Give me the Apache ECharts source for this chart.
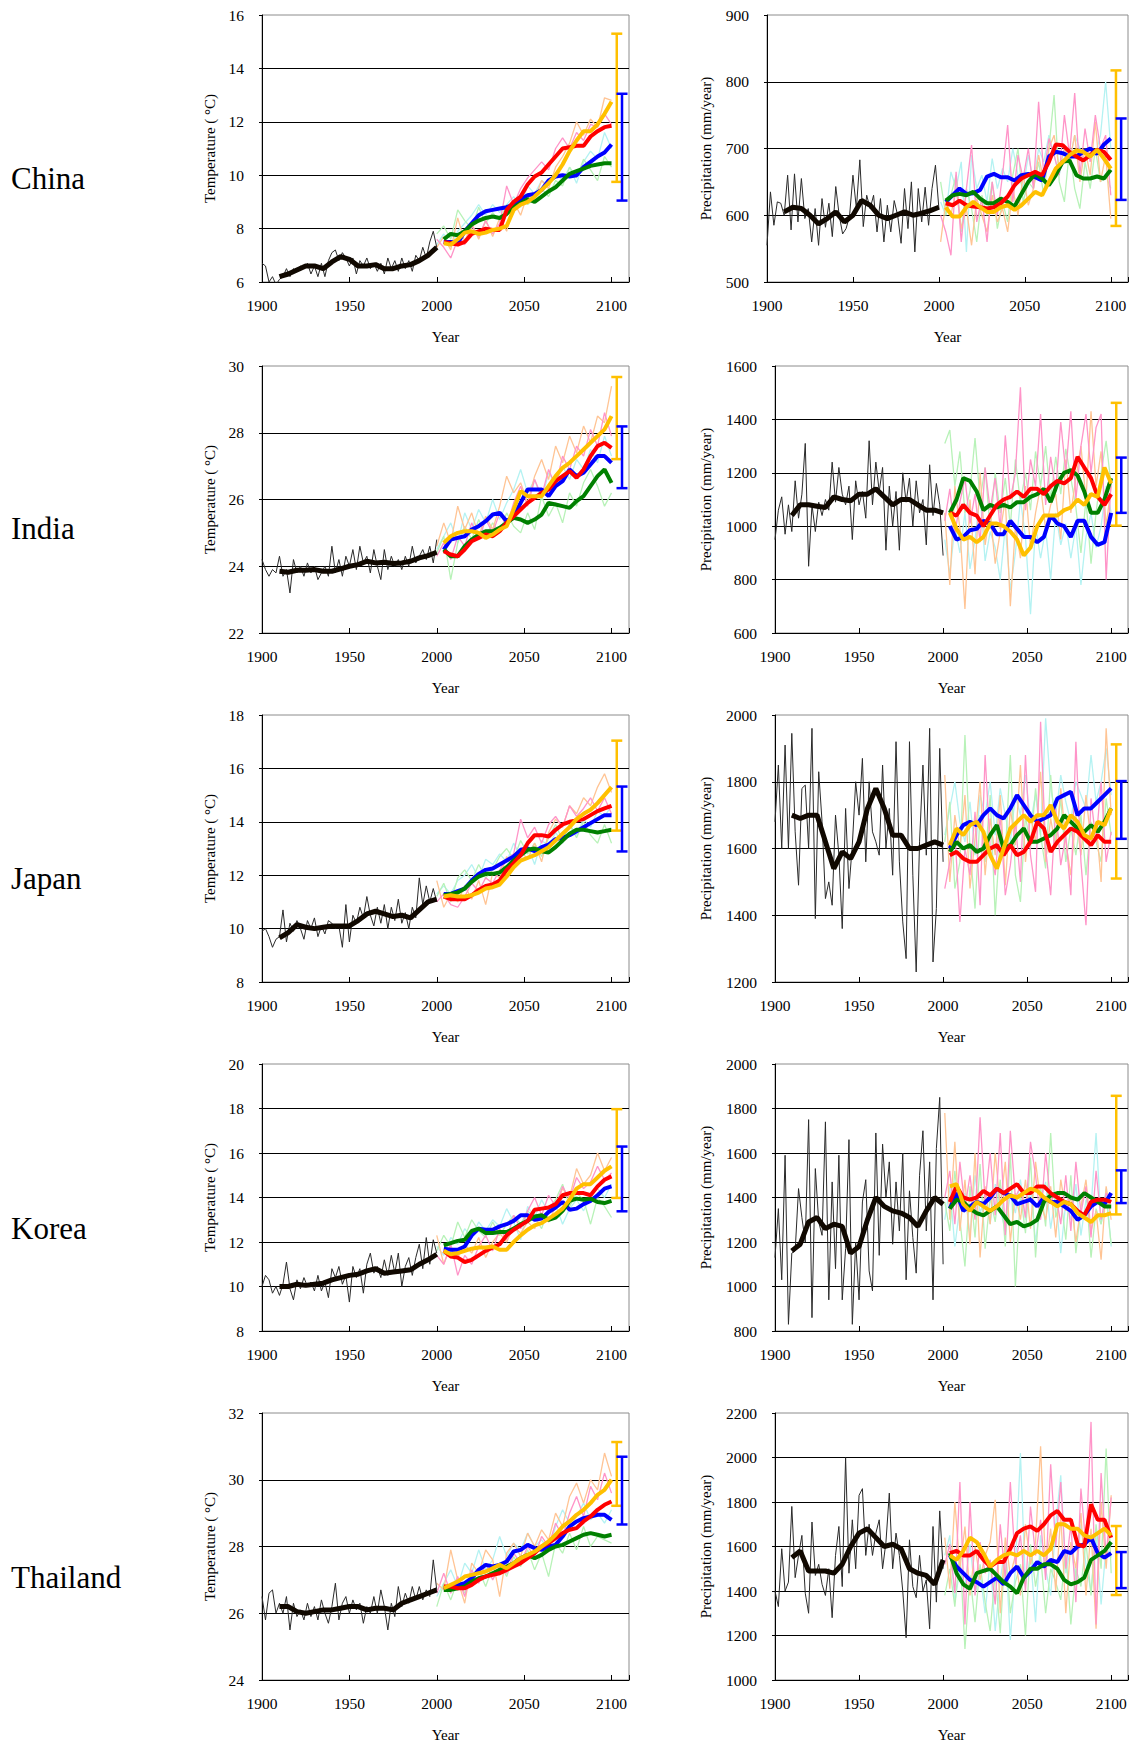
<!DOCTYPE html>
<html>
<head>
<meta charset="utf-8">
<title>Temperature and precipitation projections</title>
<script src="https://cdn.jsdelivr.net/npm/echarts@6/dist/echarts.min.js"></script>
<style>
  html, body { margin: 0; padding: 0; background: #fff; }
  #main { width: 1133px; height: 1744px; }
</style>
</head>
<body>
<div id="main"></div>
<script>
// year layout of each kind of series
const HIST_START = 1900, HIST_STEP = 2;      // thin observed line
const SMOOTH_START = 1910, SMOOTH_STEP = 5;  // thick observed line
const FUT_START = 2004, FUT_STEP = 4;        // thick scenario lines
const TEMP_THIN_START = 2000, TEMP_THIN_STEP = 4;
const PREC_THIN_START = 2001, PREC_THIN_STEP = 3;

const countries = ['China', 'India', 'Japan', 'Korea', 'Thailand'];
const yearTicks = [1900, 1950, 2000, 2050, 2100];

// [min, max, interval]
const chinaTempAxis = [6, 16, 2];
const chinaPrecipAxis = [500, 900, 100];
const indiaTempAxis = [22, 30, 2];
const indiaPrecipAxis = [600, 1600, 200];
const japanTempAxis = [8, 18, 2];
const japanPrecipAxis = [1200, 2000, 200];
const koreaTempAxis = [8, 20, 2];
const koreaPrecipAxis = [800, 2000, 200];
const thaiTempAxis = [24, 32, 2];
const thaiPrecipAxis = [1000, 2200, 200];

// ---------- China ----------
const chinaTempHist = [6.7, 6.6, 6.0, 6.2, 5.9, 6.1, 6.2, 6.5, 6.2, 6.5,
  6.4, 6.6, 6.5, 6.7, 6.3, 6.6, 6.2, 6.7, 6.2, 6.8,
  7.1, 7.2, 6.8, 7.1, 6.9, 6.6, 6.9, 6.3, 6.8, 6.6,
  6.9, 6.5, 6.7, 6.4, 6.7, 6.3, 6.9, 6.5, 6.8, 6.4,
  6.9, 6.5, 6.8, 6.4, 7.0, 6.8, 7.3, 6.9, 7.5, 7.9, 7.3];
const chinaTempSmooth = [6.2, 6.3, 6.45, 6.6, 6.6, 6.5, 6.75, 6.95, 6.85, 6.6, 6.6, 6.65, 6.5, 6.5, 6.6, 6.65, 6.8, 7.0, 7.3];
const chinaTempBlue = [7.5, 7.5, 7.45, 7.9, 8.2, 8.5, 8.65, 8.7, 8.75, 8.8, 8.9, 9.1, 9.25, 9.3, 9.45, 9.8, 9.95, 10.0, 9.95, 10.0, 10.3, 10.5, 10.7, 10.85, 11.15];
const chinaTempRed = [7.5, 7.45, 7.4, 7.5, 7.8, 7.9, 8.0, 7.95, 7.95, 8.7, 9.0, 9.2, 9.65, 9.95, 10.1, 10.4, 10.7, 11.0, 11.05, 11.1, 11.1, 11.45, 11.65, 11.8, 11.85];
const chinaTempGreen = [7.6, 7.8, 7.75, 7.9, 8.15, 8.3, 8.4, 8.45, 8.4, 8.55, 8.8, 8.95, 9.1, 9.0, 9.2, 9.4, 9.55, 9.8, 10.05, 10.15, 10.25, 10.35, 10.4, 10.45, 10.45];
const chinaTempYellow = [7.45, 7.4, 7.6, 7.85, 7.9, 7.8, 7.85, 7.95, 8.0, 8.1, 8.7, 8.9, 9.0, 9.2, 9.45, 9.7, 10.0, 10.4, 10.9, 11.3, 11.65, 11.65, 11.9, 12.3, 12.75];
const chinaTempPink = [7.6, 7.3, 6.9, 7.6, 7.4, 8.1, 7.7, 8.3, 7.8, 8.2, 9.6, 8.9, 9.5, 9.9, 10.2, 10.5, 10.2, 11.0, 11.4, 11.0, 11.6, 11.3, 11.9, 11.8, 12.3, 11.9];
const chinaTempPeach = [7.3, 7.7, 7.2, 8.4, 7.5, 8.2, 7.6, 8.3, 7.7, 8.4, 7.9, 9.0, 8.5, 9.3, 9.1, 9.8, 9.5, 10.3, 10.7, 11.2, 12.0, 11.5, 12.1, 11.8, 12.9, 12.8];
const chinaTempMint = [7.8, 8.1, 7.6, 8.7, 8.3, 8.0, 8.8, 8.2, 8.6, 8.3, 8.9, 8.6, 9.2, 8.9, 9.1, 9.5, 9.2, 9.8, 9.6, 10.3, 9.9, 10.6, 10.2, 9.8, 10.7, 10.3];
const chinaTempCyan = [7.4, 7.8, 7.3, 7.9, 8.2, 8.5, 8.9, 8.5, 8.9, 8.6, 8.9, 9.2, 8.8, 9.6, 9.3, 9.8, 9.6, 10.1, 9.8, 10.3, 9.7, 10.5, 10.9, 10.6, 11.6, 11.0];
const chinaTempBars = [9.75, 15.3, 9.05, 13.05]; // yellow low/high, blue low/high

const chinaPrecipHist = [555, 635, 585, 620, 618, 600, 660, 578, 662, 590,
  655, 595, 610, 560, 610, 555, 625, 582, 618, 568,
  643, 600, 572, 580, 598, 660, 610, 683, 583, 630,
  610, 630, 575, 625, 560, 615, 575, 622, 600, 558,
  640, 580, 650, 545, 640, 590, 642, 585, 640, 675, 610];
const chinaPrecipSmooth = [605, 612, 610, 600, 587, 595, 605, 590, 600, 622, 615, 600, 595, 600, 605, 600, 603, 607, 612];
const chinaPrecipBlue = [620, 630, 640, 632, 633, 638, 658, 662, 657, 657, 652, 660, 662, 657, 652, 688, 695, 693, 688, 688, 695, 700, 692, 706, 715];
const chinaPrecipRed = [618, 615, 622, 615, 613, 612, 610, 612, 618, 628, 645, 655, 660, 665, 660, 680, 706, 705, 695, 688, 682, 690, 698, 695, 683];
const chinaPrecipGreen = [622, 630, 632, 630, 635, 625, 618, 618, 625, 620, 613, 632, 650, 662, 655, 645, 660, 680, 682, 660, 655, 655, 658, 655, 668];
const chinaPrecipYellow = [612, 598, 598, 612, 620, 612, 605, 605, 612, 615, 608, 615, 625, 635, 630, 650, 670, 680, 690, 697, 695, 688, 698, 685, 670];
const chinaPrecipPink = [600, 575, 540, 665, 560, 640, 705, 590, 625, 560, 650, 600, 660, 735, 620, 690, 655, 700, 640, 770, 660, 715, 690, 660, 750, 690, 783, 660, 730, 680, 750, 700, 720, 630];
const chinaPrecipPeach = [560, 620, 600, 640, 580, 610, 555, 625, 600, 575, 630, 590, 610, 575, 640, 600, 660, 615, 640, 690, 650, 700, 720, 670, 700, 680, 720, 650, 700, 660, 740, 650, 690, 595];
const chinaPrecipMint = [650, 600, 630, 660, 575, 640, 610, 560, 630, 600, 650, 580, 620, 590, 660, 700, 620, 650, 640, 680, 630, 700, 780, 650, 620, 700, 640, 610, 680, 640, 700, 650, 660, 640];
const chinaPrecipCyan = [620, 600, 665, 640, 680, 545, 690, 640, 660, 620, 685, 640, 670, 650, 700, 660, 640, 690, 650, 700, 680, 720, 690, 660, 700, 680, 720, 700, 680, 700, 690, 720, 800, 700];
const chinaPrecipBars = [584, 817, 623, 745];

// ---------- India ----------
const indiaTempHist = [24.2, 23.9, 23.7, 23.9, 23.8, 24.3, 23.7, 23.9, 23.2, 24.2,
  23.8, 24.0, 23.7, 24.1, 23.8, 24.0, 23.6, 23.8, 24.0, 23.7,
  24.6, 23.8, 24.2, 23.7, 24.3, 24.0, 24.5, 23.9, 24.6, 24.1,
  24.3, 23.8, 24.5, 24.0, 23.6, 24.5, 23.9, 24.3, 24.0, 24.2,
  23.9, 24.3, 24.0, 24.6, 24.1, 24.3, 24.5, 24.2, 24.6, 24.1, 24.8];
const indiaTempSmooth = [23.85, 23.82, 23.88, 23.88, 23.9, 23.85, 23.85, 23.92, 24.0, 24.05, 24.15, 24.1, 24.12, 24.08, 24.1, 24.15, 24.25, 24.32, 24.42];
const indiaTempBlue = [24.5, 24.8, 24.85, 24.9, 25.1, 25.2, 25.35, 25.55, 25.6, 25.35, 25.5, 25.9, 26.3, 26.3, 26.3, 26.1, 26.4, 26.55, 26.9, 26.7, 26.8, 27.05, 27.3, 27.3, 27.1];
const indiaTempRed = [24.45, 24.35, 24.3, 24.5, 24.75, 24.85, 24.95, 24.9, 25.05, 25.3, 25.5, 25.7, 25.9, 26.05, 26.2, 26.3, 26.55, 26.7, 26.85, 26.65, 26.9, 27.3, 27.6, 27.7, 27.55];
const indiaTempGreen = [24.5, 24.3, 24.3, 24.6, 24.8, 24.95, 25.05, 25.05, 25.15, 25.3, 25.45, 25.4, 25.3, 25.4, 25.55, 25.9, 25.85, 25.8, 25.75, 25.95, 26.1, 26.4, 26.7, 26.9, 26.5];
const indiaTempYellow = [24.7, 24.9, 25.0, 25.05, 25.05, 25.0, 24.85, 24.95, 25.1, 25.2, 25.7, 26.25, 26.1, 26.1, 26.1, 26.4, 26.7, 26.95, 27.1, 27.3, 27.5, 27.7, 27.9, 28.1, 28.5];
const indiaTempPink = [24.3, 24.7, 24.2, 24.9, 24.6, 25.3, 24.8, 25.4, 25.0, 25.6, 25.2, 25.9, 26.4, 25.8, 26.6, 26.1, 26.9, 26.4, 27.3, 26.9, 27.6, 27.3, 28.1, 27.6, 28.6, 27.9];
const indiaTempPeach = [24.6, 25.3, 24.7, 25.8, 25.1, 25.6, 24.9, 25.5, 25.1, 25.8, 26.7, 26.2, 26.5, 25.9, 26.7, 27.2, 26.6, 27.6, 27.1, 27.9, 27.4, 28.2, 27.7, 28.5, 28.3, 29.4];
const indiaTempMint = [24.4, 24.9, 23.6, 24.7, 25.2, 24.8, 25.4, 24.9, 25.3, 25.0, 25.6, 25.2, 25.0, 25.6, 25.1, 26.1, 25.5, 25.9, 25.3, 26.2, 25.8, 26.5, 26.9, 26.4, 25.8, 26.2];
const indiaTempCyan = [24.5, 24.9, 25.3, 24.7, 25.6, 25.1, 25.7, 25.3, 26.0, 25.4, 25.9, 26.3, 26.9, 26.2, 26.6, 26.0, 26.8, 26.5, 27.0, 26.6, 27.2, 26.9, 27.5, 27.1, 27.9, 27.3];
const indiaTempBars = [27.21, 29.67, 26.34, 28.19];

const indiaPrecipHist = [950, 1060, 1110, 970, 1080, 980, 1170, 1030, 1120, 1310,
  850, 1080, 980, 1090, 1040, 1100, 1060, 1240, 1090, 1220,
  1120, 1080, 1150, 950, 1170, 1080, 1130, 1030, 1320, 1080,
  1240, 1130, 1220, 910, 1150, 1000, 1130, 910, 1200, 1090,
  1180, 1000, 1170, 1050, 1100, 930, 1230, 1040, 1160, 1080, 890];
const indiaPrecipSmooth = [1040, 1080, 1080, 1075, 1070, 1110, 1100, 1095, 1120, 1120, 1140, 1110, 1080, 1100, 1100, 1080, 1060, 1060, 1050];
const indiaPrecipBlue = [1000, 950, 960, 985, 990, 1020, 1010, 970, 970, 1020, 990, 960, 960, 940, 960, 1040, 1010, 1000, 960, 1020, 1020, 960, 930, 940, 1050];
const indiaPrecipRed = [1050, 1040, 1080, 1050, 1040, 1000, 1040, 1080, 1100, 1110, 1130, 1110, 1140, 1140, 1120, 1150, 1170, 1160, 1180, 1260, 1220, 1180, 1110, 1080, 1120];
const indiaPrecipGreen = [1050, 1100, 1180, 1170, 1130, 1060, 1080, 1070, 1080, 1070, 1090, 1090, 1110, 1120, 1140, 1090, 1160, 1200, 1210, 1190, 1130, 1050, 1050, 1100, 1180];
const indiaPrecipYellow = [1050, 990, 950, 960, 940, 960, 1010, 1010, 1000, 980, 950, 890, 920, 1000, 1040, 1040, 1040, 1060, 1070, 1100, 1080, 1120, 1110, 1220, 1160];
const indiaPrecipPink = [1020, 1140, 970, 1090, 1180, 1010, 1120, 940, 1220, 1060, 1180, 990, 1340, 1100, 1200, 1520, 1060, 1250, 1150, 1420, 1080, 1260, 1130, 1390, 1200, 1430, 1100, 1300, 1420, 1200, 1370, 1420, 800, 1180];
const indiaPrecipPeach = [1050, 780, 1150, 990, 690, 1100, 820, 1200, 930, 1050, 860, 980, 1100, 700, 1000, 880, 1150, 920, 1050, 1150, 990, 1080, 1120, 950, 1250, 1050, 1180, 1300, 1100, 1430, 1150, 1280, 1000, 1150];
const indiaPrecipMint = [1310, 1360, 1150, 1280, 1050, 1130, 1330, 1100, 1220, 990, 1200, 1050, 1180, 1000, 1250, 1090, 1200, 1060, 1280, 1150, 1300, 1100, 1260, 1120, 1290, 1180, 1070, 900, 1100, 860, 1050, 1200, 1320, 1150];
const indiaPrecipCyan = [950, 820, 1000, 900, 1050, 840, 950, 1120, 870, 980, 920, 800, 1000, 760, 900, 1100, 960, 670, 1000, 880, 990, 800, 1050, 930, 1010, 880, 1000, 780, 960, 1050, 920, 1000, 1150, 1050];
const indiaPrecipBars = [1002, 1462, 1050, 1257];

// ---------- Japan ----------
const japanTempHist = [9.9, 10.0, 9.7, 9.3, 9.6, 9.7, 10.7, 9.5, 10.2, 9.9,
  10.3, 10.0, 9.6, 10.3, 10.0, 10.4, 9.7, 10.1, 9.8, 10.3,
  10.2, 10.0, 10.1, 9.3, 10.9, 9.5, 10.5, 10.2, 10.8, 10.4,
  11.2, 10.5, 10.1, 10.8, 10.2, 10.9, 10.0, 10.8, 10.3, 11.1,
  10.2, 10.6, 10.0, 10.8, 10.4, 11.9, 10.9, 11.6, 11.0, 11.5, 11.0];
const japanTempSmooth = [9.65, 9.85, 10.15, 10.05, 10.0, 10.05, 10.1, 10.1, 10.1, 10.3, 10.55, 10.65, 10.55, 10.45, 10.5, 10.4, 10.7, 11.0, 11.1];
const japanTempBlue = [11.3, 11.3, 11.4, 11.5, 11.8, 12.05, 12.2, 12.25, 12.4, 12.55, 12.7, 12.95, 13.0, 12.9, 13.05, 13.15, 13.35, 13.4, 13.5, 13.65, 13.8, 13.95, 14.1, 14.25, 14.25];
const japanTempRed = [11.2, 11.1, 11.1, 11.1, 11.25, 11.45, 11.6, 11.65, 11.8, 12.2, 12.45, 12.75, 13.2, 13.5, 13.5, 13.45, 13.7, 13.9, 14.0, 14.05, 14.1, 14.25, 14.4, 14.5, 14.6];
const japanTempGreen = [11.25, 11.3, 11.35, 11.5, 11.75, 11.95, 12.05, 12.05, 12.1, 12.3, 12.55, 12.75, 12.95, 13.0, 12.9, 12.85, 13.05, 13.3, 13.55, 13.7, 13.7, 13.65, 13.6, 13.65, 13.7];
const japanTempYellow = [11.2, 11.25, 11.2, 11.2, 11.25, 11.35, 11.5, 11.55, 11.65, 11.95, 12.3, 12.55, 12.65, 12.75, 12.9, 13.05, 13.3, 13.55, 13.8, 14.1, 14.3, 14.45, 14.7, 15.0, 15.3];
const japanTempPink = [11.0, 11.3, 10.9, 10.8, 11.2, 11.7, 11.4, 11.9, 11.7, 12.2, 12.6, 12.8, 14.1, 13.4, 13.8, 13.2, 13.9, 14.2, 13.8, 14.6, 14.2, 14.5, 14.9, 14.4, 14.9, 14.3];
const japanTempPeach = [11.8, 10.8, 11.3, 11.0, 11.6, 11.1, 11.8, 10.9, 12.1, 11.9, 12.7, 12.3, 12.9, 12.6, 13.2, 12.5, 13.6, 14.1, 13.8, 14.6, 14.3, 14.9, 14.6, 15.3, 15.8, 15.1];
const japanTempMint = [11.2, 11.7, 11.0, 11.9, 12.2, 11.8, 12.4, 11.9, 12.2, 12.7, 13.0, 12.6, 13.3, 12.8, 13.2, 12.7, 13.4, 13.9, 13.3, 13.9, 13.4, 14.0, 13.5, 13.2, 13.9, 13.2];
const japanTempCyan = [11.3, 11.6, 11.3, 11.8, 12.0, 12.4, 11.9, 12.6, 12.4, 12.8, 12.5, 13.2, 12.7, 13.1, 12.4, 13.3, 13.1, 13.6, 13.2, 13.9, 13.5, 14.1, 13.8, 14.4, 14.2, 14.6];
const japanTempBars = [13.67, 17.04, 12.89, 15.32];

const japanPrecipHist = [1680, 1850, 1600, 1910, 1600, 1945, 1650, 1490, 1780, 1790,
  1600, 1960, 1390, 1830, 1680, 1450, 1500, 1430, 1700, 1580,
  1360, 1720, 1480, 1610, 1800, 1700, 1870, 1560, 1800, 1650,
  1620, 1580, 1850, 1600, 1720, 1520, 1920, 1560, 1380, 1270,
  1920, 1520, 1230, 1620, 1850, 1580, 1960, 1260, 1420, 1900, 1560];
const japanPrecipSmooth = [1700, 1690, 1700, 1700, 1620, 1540, 1590, 1570, 1620, 1720, 1780, 1720, 1640, 1640, 1600, 1600, 1610, 1620, 1610];
const japanPrecipBlue = [1600, 1640, 1670, 1680, 1670, 1700, 1720, 1700, 1690, 1720, 1760, 1730, 1700, 1680, 1690, 1700, 1750, 1760, 1770, 1700, 1720, 1720, 1740, 1760, 1780];
const japanPrecipRed = [1580, 1590, 1570, 1560, 1560, 1580, 1600, 1610, 1580, 1610, 1580, 1590, 1620, 1680, 1660, 1590, 1620, 1640, 1660, 1650, 1630, 1610, 1640, 1620, 1620];
const japanPrecipGreen = [1590, 1620, 1600, 1610, 1590, 1600, 1640, 1670, 1600, 1610, 1640, 1660, 1620, 1620, 1630, 1640, 1660, 1700, 1680, 1660, 1650, 1670, 1650, 1680, 1720];
const japanPrecipYellow = [1610, 1660, 1640, 1670, 1680, 1650, 1580, 1540, 1600, 1660, 1680, 1700, 1680, 1700, 1700, 1730, 1680, 1660, 1700, 1680, 1640, 1630, 1680, 1670, 1720];
const japanPrecipPink = [1480, 1560, 1650, 1380, 1600, 1520, 1710, 1430, 1880, 1600, 1520, 1700, 1460, 1550, 1680, 1500, 1880, 1580, 1470, 1980, 1600, 1460, 1720, 1550, 1640, 1460, 1920, 1560, 1370, 1750, 1620, 1800, 1560, 1650];
const japanPrecipPeach = [1820, 1500, 1700, 1600, 1760, 1480, 1630, 1800, 1520, 1690, 1580, 1760, 1490, 1720, 1610, 1850, 1560, 1700, 1620, 1830, 1560, 1690, 1600, 1780, 1620, 1520, 1700, 1580, 1760, 1620, 1680, 1500, 1960, 1700];
const japanPrecipMint = [1620, 1740, 1480, 1560, 1940, 1600, 1420, 1700, 1560, 1760, 1400, 1640, 1580, 1880, 1520, 1440, 1700, 1600, 1780, 1640, 1540, 1820, 1620, 1750, 1560, 1660, 1580, 1700, 1520, 1680, 1620, 1560, 1750, 1640];
const japanPrecipCyan = [1640, 1720, 1800, 1680, 1620, 1740, 1580, 1760, 1700, 1800, 1640, 1780, 1700, 1620, 1760, 1700, 1820, 1680, 1760, 1640, 1990, 1780, 1700, 1820, 1740, 1680, 1800, 1760, 1720, 1880, 1740, 1800, 1900, 1760];
const japanPrecipBars = [1510, 1912, 1629, 1802];

// ---------- Korea ----------
const koreaTempHist = [10.0, 10.5, 10.3, 9.7, 10.0, 9.6, 10.1, 11.1, 9.9, 9.4,
  10.3, 9.9, 10.4, 10.0, 10.2, 9.8, 10.5, 9.8, 10.2, 9.5,
  10.8, 10.4, 10.9, 10.1, 10.5, 9.3, 10.9, 10.4, 10.8, 9.7,
  11.0, 11.5, 10.6, 10.9, 10.4, 11.2, 10.5, 11.4, 10.6, 11.5,
  10.0, 10.9, 11.3, 10.5, 11.3, 11.9, 10.8, 12.2, 11.0, 12.1, 11.5];
const koreaTempSmooth = [10.0, 10.0, 10.1, 10.05, 10.1, 10.15, 10.3, 10.4, 10.5, 10.55, 10.7, 10.8, 10.6, 10.65, 10.7, 10.75, 11.0, 11.2, 11.45];
const koreaTempBlue = [11.7, 11.65, 11.65, 11.8, 12.3, 12.6, 12.55, 12.55, 12.7, 12.8, 12.95, 13.2, 13.2, 13.0, 13.05, 13.35, 13.55, 13.8, 13.45, 13.5, 13.7, 13.85, 14.1, 14.4, 14.5];
const koreaTempRed = [11.6, 11.35, 11.3, 11.1, 11.2, 11.4, 11.6, 11.75, 11.9, 12.3, 12.55, 12.75, 12.95, 13.45, 13.5, 13.55, 13.7, 14.1, 14.2, 14.2, 14.2, 14.1, 14.5, 14.8, 14.95];
const koreaTempGreen = [11.85, 11.95, 12.05, 12.1, 12.5, 12.6, 12.4, 12.4, 12.45, 12.45, 12.6, 12.8, 12.95, 13.15, 13.2, 13.0, 13.1, 13.4, 13.85, 13.95, 13.9, 13.95, 13.8, 13.75, 13.85];
const koreaTempYellow = [11.6, 11.45, 11.5, 11.6, 11.7, 11.75, 11.75, 11.8, 11.65, 11.65, 12.0, 12.3, 12.55, 12.75, 12.85, 13.05, 13.25, 13.5, 13.9, 14.4, 14.6, 14.6, 14.9, 15.2, 15.4];
const koreaTempPink = [11.4, 11.0, 11.9, 10.5, 11.4, 11.0, 11.8, 12.3, 11.6, 12.6, 12.1, 13.2, 12.6, 13.4, 14.0, 13.2, 14.1, 13.6, 14.5, 13.9, 14.9, 14.4, 14.7, 15.4, 14.8, 15.1];
const koreaTempPeach = [12.3, 11.0, 11.8, 11.3, 11.9, 11.5, 12.2, 11.3, 12.0, 12.4, 12.0, 12.7, 12.4, 12.9, 12.6, 13.3, 12.9, 13.6, 14.4, 14.0, 15.3, 14.6, 15.0, 16.0, 15.2, 15.8];
const koreaTempMint = [11.6, 12.3, 11.8, 12.9, 12.2, 13.0, 12.5, 12.2, 12.9, 12.3, 12.8, 13.2, 12.8, 13.4, 13.1, 12.6, 13.5, 13.9, 14.6, 13.6, 14.2, 13.9, 12.8, 14.0, 13.6, 13.1];
const koreaTempCyan = [11.8, 11.4, 12.2, 11.9, 12.6, 12.2, 12.9, 12.5, 13.0, 12.7, 13.5, 12.9, 12.1, 13.6, 13.1, 13.9, 13.3, 13.7, 12.8, 13.5, 13.9, 13.4, 14.1, 14.4, 14.0, 14.6];
const koreaTempBars = [13.98, 17.97, 13.38, 16.29];

const koreaPrecipHist = [1130, 1350, 1030, 1590, 830, 1150, 1160, 1440, 1310, 1200,
  1750, 860, 1530, 1290, 1230, 1740, 940, 1470, 1080, 1590,
  940, 1170, 1660, 830, 1200, 940, 1380, 1480, 1070, 980,
  1690, 1140, 1640, 1400, 1560, 1190, 1470, 1250, 1600, 1030,
  1430, 1220, 1060, 1500, 1700, 1250, 1560, 940, 1620, 1850, 1100];
const koreaPrecipSmooth = [1160, 1190, 1290, 1310, 1260, 1280, 1270, 1150, 1180, 1300, 1400, 1360, 1340, 1330, 1310, 1270, 1340, 1400, 1370];
const koreaPrecipBlue = [1350, 1420, 1340, 1360, 1380, 1370, 1400, 1440, 1420, 1410, 1370, 1380, 1390, 1360, 1400, 1380, 1380, 1360, 1340, 1300, 1320, 1360, 1380, 1370, 1420];
const koreaPrecipRed = [1380, 1450, 1400, 1390, 1400, 1430, 1410, 1440, 1420, 1440, 1460, 1420, 1420, 1450, 1450, 1420, 1400, 1380, 1370, 1340, 1320, 1380, 1390, 1390, 1380];
const koreaPrecipGreen = [1350, 1390, 1380, 1350, 1330, 1320, 1340, 1360, 1320, 1280, 1290, 1270, 1280, 1300, 1380, 1410, 1420, 1420, 1400, 1390, 1420, 1400, 1380, 1360, 1360];
const koreaPrecipYellow = [1450, 1460, 1370, 1340, 1380, 1360, 1340, 1360, 1390, 1410, 1400, 1420, 1440, 1430, 1400, 1380, 1360, 1380, 1370, 1330, 1310, 1290, 1320, 1320, 1330];
const koreaPrecipPink = [1400, 1520, 1280, 1560, 1350, 1500, 1300, 1760, 1380, 1600, 1320, 1690, 1230, 1700, 1400, 1450, 1310, 1650, 1500, 1300, 1600, 1380, 1420, 1280, 1500, 1250, 1560, 1330, 1450, 1220, 1520, 1300, 1420, 1380];
const koreaPrecipPeach = [1780, 1300, 1650, 1250, 1480, 1190, 1600, 1130, 1450, 1280, 1600, 1360, 1560, 1200, 1420, 1300, 1480, 1260, 1560, 1380, 1300, 1450, 1220, 1480, 1340, 1400, 1200, 1360, 1480, 1250, 1340, 1120, 1450, 1300];
const koreaPrecipMint = [1380, 1250, 1520, 1300, 1090, 1450, 1220, 1550, 1170, 1400, 1290, 1480, 1180, 1600, 1000, 1420, 1240, 1580, 1130, 1450, 1270, 1690, 1310, 1400, 1210, 1500, 1150, 1360, 1440, 1130, 1350, 1280, 1400, 1190];
const koreaPrecipCyan = [1300, 1450, 1180, 1360, 1420, 1230, 1500, 1330, 1400, 1280, 1460, 1350, 1250, 1420, 1330, 1480, 1300, 1440, 1200, 1380, 1470, 1260, 1410, 1150, 1380, 1300, 1460, 1230, 1390, 1350, 1690, 1280, 1440, 1180];
const koreaPrecipBars = [1324, 1857, 1375, 1522];

// ---------- Thailand ----------
const thaiTempHist = [26.5, 25.8, 26.6, 26.7, 26.0, 26.3, 26.0, 26.5, 25.5, 26.3,
  25.9, 26.1, 25.8, 26.3, 25.9, 26.2, 25.8, 26.4, 26.0, 25.7,
  26.2, 26.9, 25.8, 26.3, 26.5, 26.0, 26.4, 26.1, 26.3, 25.7,
  26.2, 26.0, 26.5, 26.0, 26.7, 26.2, 25.5, 26.3, 25.9, 26.8,
  26.2, 26.6, 26.3, 26.8, 26.4, 26.8, 26.4, 26.7, 26.5, 27.6, 26.7];
const thaiTempSmooth = [26.2, 26.2, 26.05, 26.0, 26.05, 26.1, 26.1, 26.15, 26.2, 26.2, 26.1, 26.15, 26.15, 26.1, 26.3, 26.4, 26.5, 26.6, 26.7];
const thaiTempBlue = [26.75, 26.8, 26.85, 26.9, 27.05, 27.3, 27.45, 27.4, 27.45, 27.55, 27.85, 27.9, 28.05, 27.95, 27.9, 28.0, 28.05, 28.3, 28.6, 28.75, 28.85, 28.9, 28.95, 28.95, 28.8];
const thaiTempRed = [26.8, 26.8, 26.75, 26.75, 26.85, 27.0, 27.1, 27.15, 27.2, 27.3, 27.4, 27.5, 27.65, 27.8, 28.0, 28.1, 28.25, 28.4, 28.5, 28.55, 28.75, 28.9, 29.1, 29.25, 29.35];
const thaiTempGreen = [26.7, 26.7, 26.75, 26.8, 26.95, 27.05, 27.1, 27.2, 27.3, 27.4, 27.5, 27.65, 27.75, 27.65, 27.75, 27.9, 28.0, 28.05, 28.15, 28.25, 28.35, 28.4, 28.35, 28.3, 28.35];
const thaiTempYellow = [26.75, 26.85, 26.95, 27.1, 27.15, 27.2, 27.25, 27.35, 27.45, 27.35, 27.5, 27.65, 27.75, 27.85, 28.0, 28.15, 28.35, 28.6, 28.75, 28.95, 29.1, 29.3, 29.55, 29.7, 30.0];
const thaiTempPink = [26.6, 27.2, 26.6, 27.1, 26.5, 27.3, 26.9, 27.5, 27.0, 27.4, 27.2, 27.8, 27.5, 28.0, 27.7, 28.3, 28.0, 28.7, 28.3, 29.0, 29.5, 28.9, 29.8, 29.4, 30.2, 29.6];
const thaiTempPeach = [26.9, 26.7, 27.9, 27.0, 26.3, 27.5, 27.2, 27.9, 27.6, 26.5, 27.8, 28.1, 27.7, 28.4, 28.0, 28.5, 28.2, 29.0, 28.6, 29.5, 29.9, 29.3, 30.0, 29.7, 30.8, 30.1];
const thaiTempMint = [26.2, 26.9, 26.4, 27.0, 26.6, 27.1, 27.3, 26.8, 27.4, 27.5, 27.1, 27.7, 27.4, 27.9, 27.3, 27.8, 27.1, 28.1, 27.8, 28.4, 27.9, 28.6, 28.0, 28.3, 28.2, 28.1];
const thaiTempCyan = [26.5, 26.9, 27.3, 26.8, 27.5, 27.2, 27.9, 27.3, 27.6, 28.3, 27.7, 28.1, 27.9, 28.4, 28.0, 28.2, 27.9, 28.6, 29.1, 28.7, 28.9, 29.3, 28.8, 29.0, 28.7, 29.1];
const thaiTempBars = [29.22, 31.13, 28.66, 30.69];

const thaiPrecipHist = [1400, 1330, 1590, 1400, 1440, 1780, 1460, 1560, 1650, 1390,
  1300, 1710, 1470, 1520, 1430, 1380, 1500, 1280, 1560, 1690,
  1420, 2000, 1480, 1720, 1500, 1830, 1860, 1560, 1700, 1560,
  1660, 1720, 1500, 1620, 1840, 1500, 1660, 1560, 1400, 1190,
  1630, 1420, 1370, 1560, 1400, 1450, 1230, 1690, 1350, 1760, 1500];
const thaiPrecipSmooth = [1550, 1580, 1490, 1490, 1490, 1480, 1520, 1600, 1660, 1680, 1640, 1600, 1610, 1590, 1500, 1480, 1470, 1430, 1540];
const thaiPrecipBlue = [1560, 1510, 1480, 1450, 1440, 1420, 1440, 1460, 1430, 1480, 1510, 1460, 1490, 1530, 1510, 1540, 1530, 1580, 1570, 1600, 1610, 1640, 1570, 1550, 1570];
const thaiPrecipRed = [1570, 1580, 1560, 1560, 1580, 1540, 1510, 1530, 1530, 1590, 1660, 1680, 1690, 1670, 1700, 1740, 1760, 1720, 1720, 1610, 1600, 1790, 1720, 1720, 1640];
const thaiPrecipGreen = [1570, 1480, 1430, 1410, 1480, 1490, 1500, 1470, 1440, 1420, 1390, 1460, 1500, 1500, 1520, 1520, 1500, 1450, 1430, 1440, 1460, 1540, 1560, 1580, 1620];
const thaiPrecipYellow = [1560, 1540, 1580, 1640, 1620, 1570, 1510, 1540, 1560, 1570, 1560, 1580, 1560, 1580, 1560, 1590, 1700, 1700, 1680, 1680, 1650, 1640, 1660, 1680, 1650];
const thaiPrecipPink = [1520, 1610, 1390, 1890, 1250, 1800, 1380, 1620, 1480, 1540, 1340, 1700, 1450, 1890, 1520, 1650, 1400, 1780, 1560, 1720, 1450, 1970, 1600, 1890, 1500, 1700, 1350, 1860, 1600, 2160, 1250, 1930, 1550, 1820];
const thaiPrecipPeach = [1640, 1410, 1800, 1500, 1690, 1380, 1600, 1450, 1560, 1620, 1810, 1300, 1640, 1470, 1560, 1380, 1700, 1520, 1620, 2050, 1500, 1680, 1400, 1740, 1300, 1620, 1500, 1750, 1380, 1680, 1230, 1800, 1500, 1830];
const thaiPrecipMint = [1380, 1500, 1330, 1580, 1140, 1470, 1260, 1520, 1350, 1220, 1480, 1210, 1600, 1300, 1440, 1520, 1200, 1610, 1420, 1560, 1300, 1500, 1440, 1360, 1580, 1250, 1500, 1420, 1620, 1380, 1700, 1500, 2040, 1480];
const thaiPrecipCyan = [1560, 1650, 1350, 1500, 1420, 1610, 1390, 1480, 1300, 1540, 1220, 1450, 1600, 1180, 1500, 2020, 1430, 1560, 1260, 1650, 1500, 1380, 1700, 1920, 1480, 1600, 1450, 1700, 1520, 1400, 1650, 1340, 1600, 1550];
const thaiPrecipBars = [1382, 1692, 1413, 1575];

const panels = [
  { row: 0, col: 0, axis: chinaTempAxis, hist: chinaTempHist, smooth: chinaTempSmooth, blue: chinaTempBlue, red: chinaTempRed, green: chinaTempGreen, yellow: chinaTempYellow, pink: chinaTempPink, peach: chinaTempPeach, mint: chinaTempMint, cyan: chinaTempCyan, bars: chinaTempBars },
  { row: 0, col: 1, axis: chinaPrecipAxis, hist: chinaPrecipHist, smooth: chinaPrecipSmooth, blue: chinaPrecipBlue, red: chinaPrecipRed, green: chinaPrecipGreen, yellow: chinaPrecipYellow, pink: chinaPrecipPink, peach: chinaPrecipPeach, mint: chinaPrecipMint, cyan: chinaPrecipCyan, bars: chinaPrecipBars },
  { row: 1, col: 0, axis: indiaTempAxis, hist: indiaTempHist, smooth: indiaTempSmooth, blue: indiaTempBlue, red: indiaTempRed, green: indiaTempGreen, yellow: indiaTempYellow, pink: indiaTempPink, peach: indiaTempPeach, mint: indiaTempMint, cyan: indiaTempCyan, bars: indiaTempBars },
  { row: 1, col: 1, axis: indiaPrecipAxis, hist: indiaPrecipHist, smooth: indiaPrecipSmooth, blue: indiaPrecipBlue, red: indiaPrecipRed, green: indiaPrecipGreen, yellow: indiaPrecipYellow, pink: indiaPrecipPink, peach: indiaPrecipPeach, mint: indiaPrecipMint, cyan: indiaPrecipCyan, bars: indiaPrecipBars },
  { row: 2, col: 0, axis: japanTempAxis, hist: japanTempHist, smooth: japanTempSmooth, blue: japanTempBlue, red: japanTempRed, green: japanTempGreen, yellow: japanTempYellow, pink: japanTempPink, peach: japanTempPeach, mint: japanTempMint, cyan: japanTempCyan, bars: japanTempBars },
  { row: 2, col: 1, axis: japanPrecipAxis, hist: japanPrecipHist, smooth: japanPrecipSmooth, blue: japanPrecipBlue, red: japanPrecipRed, green: japanPrecipGreen, yellow: japanPrecipYellow, pink: japanPrecipPink, peach: japanPrecipPeach, mint: japanPrecipMint, cyan: japanPrecipCyan, bars: japanPrecipBars },
  { row: 3, col: 0, axis: koreaTempAxis, hist: koreaTempHist, smooth: koreaTempSmooth, blue: koreaTempBlue, red: koreaTempRed, green: koreaTempGreen, yellow: koreaTempYellow, pink: koreaTempPink, peach: koreaTempPeach, mint: koreaTempMint, cyan: koreaTempCyan, bars: koreaTempBars },
  { row: 3, col: 1, axis: koreaPrecipAxis, hist: koreaPrecipHist, smooth: koreaPrecipSmooth, blue: koreaPrecipBlue, red: koreaPrecipRed, green: koreaPrecipGreen, yellow: koreaPrecipYellow, pink: koreaPrecipPink, peach: koreaPrecipPeach, mint: koreaPrecipMint, cyan: koreaPrecipCyan, bars: koreaPrecipBars },
  { row: 4, col: 0, axis: thaiTempAxis, hist: thaiTempHist, smooth: thaiTempSmooth, blue: thaiTempBlue, red: thaiTempRed, green: thaiTempGreen, yellow: thaiTempYellow, pink: thaiTempPink, peach: thaiTempPeach, mint: thaiTempMint, cyan: thaiTempCyan, bars: thaiTempBars },
  { row: 4, col: 1, axis: thaiPrecipAxis, hist: thaiPrecipHist, smooth: thaiPrecipSmooth, blue: thaiPrecipBlue, red: thaiPrecipRed, green: thaiPrecipGreen, yellow: thaiPrecipYellow, pink: thaiPrecipPink, peach: thaiPrecipPeach, mint: thaiPrecipMint, cyan: thaiPrecipCyan, bars: thaiPrecipBars }
];

// layout
const FONT = '"Liberation Serif", "Times New Roman", serif';
const ROW_TOP = [15, 366, 715, 1064, 1413];
const PLOT_H = 267;
const RIGHT_EDGE = 1128;
const LABEL_Y = [178, 528, 878, 1228, 1577];
const BAR_X_YELLOW = 2103, BAR_X_BLUE = 2106;

const C = {
  blue: '#0000ff', red: '#ff0000', green: '#008000', yellow: '#ffc000',
  pink: '#ff94c8', peach: '#ffc494', mint: '#b8f2b8', cyan: '#b4f2f2',
  hist: '#2a2a2a', smooth: '#100800'
};

function pairs(start, step, values) {
  return values.map((v, i) => [start + i * step, v]);
}

function lineSeries(gi, data, color, width, z) {
  return {
    type: 'line', xAxisIndex: gi, yAxisIndex: gi, data: data,
    symbol: 'none', silent: true, z: z, clip: true,
    lineStyle: { color: color, width: width },
    itemStyle: { color: color }
  };
}

function drawRange(params, api) {
  const x = api.value(0);
  const lo = api.coord([x, api.value(1)]);
  const hi = api.coord([x, api.value(2)]);
  const style = { stroke: api.visual('color'), lineWidth: 2.5, fill: null };
  const cap = 5.5;
  return {
    type: 'group',
    children: [
      { type: 'line', shape: { x1: lo[0], y1: lo[1], x2: hi[0], y2: hi[1] }, style: style },
      { type: 'line', shape: { x1: hi[0] - cap, y1: hi[1], x2: hi[0] + cap, y2: hi[1] }, style: style },
      { type: 'line', shape: { x1: lo[0] - cap, y1: lo[1], x2: lo[0] + cap, y2: lo[1] }, style: style }
    ]
  };
}

const grids = [], xAxes = [], yAxes = [], series = [];

panels.forEach((p, gi) => {
  const isTemp = p.col === 0;
  const left = isTemp ? 262 : (p.row === 0 ? 767 : 775);
  const width = isTemp ? 367 : RIGHT_EDGE - left;
  grids.push({
    left: left, top: ROW_TOP[p.row], width: width, height: PLOT_H,
    show: true, borderColor: '#8c8c8c', borderWidth: 1, backgroundColor: '#fff'
  });
  xAxes.push({
    gridIndex: gi, type: 'value', min: 1900, max: 2110, interval: 50,
    name: 'Year', nameLocation: 'middle', nameGap: 47,
    nameTextStyle: { fontFamily: FONT, fontSize: 15, color: '#000' },
    axisLine: { onZero: false, lineStyle: { color: '#000', width: 1 } },
    axisTick: { inside: true, length: 5, lineStyle: { color: '#000' } },
    axisLabel: {
      fontFamily: FONT, fontSize: 15.5, color: '#000', margin: 15,
      formatter: v => yearTicks.indexOf(v) >= 0 ? String(v) : ''
    },
    splitLine: { show: false }
  });
  yAxes.push({
    gridIndex: gi, type: 'value', min: p.axis[0], max: p.axis[1], interval: p.axis[2],
    name: isTemp ? 'Temperature ( °C)' : 'Precipitation (mm/year)',
    nameLocation: 'middle', nameRotate: 90,
    nameGap: isTemp ? 45 : left - 713,
    nameTextStyle: { fontFamily: FONT, fontSize: 15, color: '#000' },
    axisLine: { show: true, onZero: false, lineStyle: { color: '#000', width: 1 } },
    axisTick: { show: true, length: 3, lineStyle: { color: '#000' } },
    axisLabel: {
      fontFamily: FONT, fontSize: 15.5, color: '#000', margin: 18,
      formatter: v => String(v)
    },
    splitLine: { show: true, showMaxLine: false, lineStyle: { color: '#000', width: 1 } }
  });

  const thinStart = isTemp ? TEMP_THIN_START : PREC_THIN_START;
  const thinStep = isTemp ? TEMP_THIN_STEP : PREC_THIN_STEP;
  series.push(lineSeries(gi, pairs(thinStart, thinStep, p.cyan), C.cyan, 1.3, 2));
  series.push(lineSeries(gi, pairs(thinStart, thinStep, p.mint), C.mint, 1.3, 2));
  series.push(lineSeries(gi, pairs(thinStart, thinStep, p.peach), C.peach, 1.3, 2));
  series.push(lineSeries(gi, pairs(thinStart, thinStep, p.pink), C.pink, 1.3, 2));
  series.push(lineSeries(gi, pairs(HIST_START, HIST_STEP, p.hist), C.hist, 1, 3));
  series.push(lineSeries(gi, pairs(SMOOTH_START, SMOOTH_STEP, p.smooth), C.smooth, 5, 4));
  series.push(lineSeries(gi, pairs(FUT_START, FUT_STEP, p.blue), C.blue, 4, 4));
  series.push(lineSeries(gi, pairs(FUT_START, FUT_STEP, p.green), C.green, 4, 4));
  series.push(lineSeries(gi, pairs(FUT_START, FUT_STEP, p.red), C.red, 4, 4));
  series.push(lineSeries(gi, pairs(FUT_START, FUT_STEP, p.yellow), C.yellow, 4, 4));
  series.push({
    type: 'custom', xAxisIndex: gi, yAxisIndex: gi, silent: true, z: 5,
    renderItem: drawRange,
    data: [
      { value: [BAR_X_YELLOW, p.bars[0], p.bars[1]], itemStyle: { color: C.yellow } },
      { value: [BAR_X_BLUE, p.bars[2], p.bars[3]], itemStyle: { color: C.blue } }
    ]
  });
});

const chart = echarts.init(document.getElementById('main'), null, { renderer: 'svg', width: 1133, height: 1744 });
chart.setOption({
  animation: false,
  backgroundColor: '#fff',
  textStyle: { fontFamily: FONT },
  grid: grids,
  xAxis: xAxes,
  yAxis: yAxes,
  series: series,
  graphic: countries.map((name, i) => ({
    type: 'text', x: 11, y: LABEL_Y[i], silent: true,
    style: { text: name, font: '31px ' + FONT, fill: '#000', verticalAlign: 'middle' }
  }))
});
</script>
</body>
</html>
